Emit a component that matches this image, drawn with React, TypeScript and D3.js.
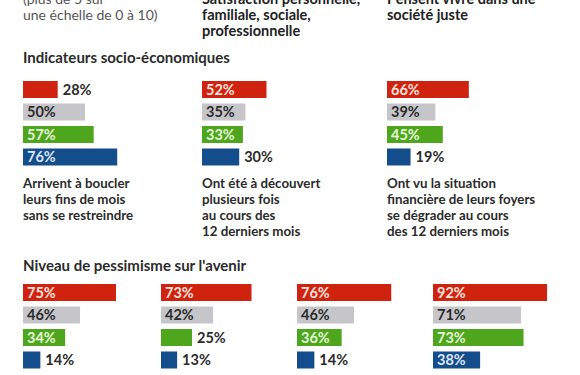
import React from "react";
import * as d3 from "d3";

const series = ["rouge", "gris", "vert", "bleu"];
const seriesColors = ["#cf2310", "#c6c6ca", "#4ea61d", "#144d8c"];
const insideTextColors = ["#fbe3de", "#2b2b2b", "#e6f6da", "#dde6f4"];

const headerTexts = [
  ["(plus de 5 sur", "une échelle de 0 à 10)"],
  ["Satisfaction personnelle,", "familiale, sociale,", "professionnelle"],
  ["Pensent vivre dans une", "société juste"],
];

const section1Title = "Indicateurs socio-économiques";
const section1Labels = [
  ["Arrivent à boucler", "leurs fins de mois", "sans se restreindre"],
  ["Ont été à découvert", "plusieurs fois", "au cours des", "12 derniers mois"],
  ["Ont vu la situation", "financière de leurs foyers", "se dégrader au cours", "des 12 derniers mois"],
];
const section1Red = [28, 52, 66];
const section1Gray = [50, 35, 39];
const section1Green = [57, 33, 45];
const section1Blue = [76, 30, 19];

const section2Title = "Niveau de pessimisme sur l'avenir";
const section2Red = [75, 73, 76, 92];
const section2Gray = [46, 42, 46, 71];
const section2Green = [34, 25, 36, 73];
const section2Blue = [14, 13, 14, 38];

const FONT = "Lato, 'Open Sans', sans-serif";
const x = d3.scaleLinear().domain([0, 100]).range([0, 124]);

function BarGroup({ left, top, values }: { left: number; top: number; values: number[] }) {
  const y = d3.scaleBand<string>().domain(series).range([top, top + 84.5]).paddingInner(0.244);
  return (
    <g>
      {series.map((s, i) => {
        const v = values[i];
        const w = x(v);
        const inside = v >= 32;
        const yy = y(s)!;
        const h = y.bandwidth();
        return (
          <g key={s}>
            <rect x={left} y={yy} width={w} height={h} fill={seriesColors[i]} />
            <text
              x={inside ? left + 4 : left + w + 5}
              y={yy + h / 2}
              dy="0.36em"
              fontFamily={FONT}
              fontWeight={700}
              fontSize={14.5}
              fill={inside ? insideTextColors[i] : "#2b2b2b"}
            >
              {v}%
            </text>
          </g>
        );
      })}
    </g>
  );
}

export default function App() {
  const cols1 = [23, 202, 387];
  const cols2 = [23, 161, 297, 433];
  const groups1 = section1Red.map((_, i) => [section1Red[i], section1Gray[i], section1Green[i], section1Blue[i]]);
  const groups2 = section2Red.map((_, i) => [section2Red[i], section2Gray[i], section2Green[i], section2Blue[i]]);
  return (
    <svg
      width={580}
      height={375}
      style={{ position: "absolute", left: 0, top: 0, background: "#fff" }}
    >
      <rect width={580} height={375} fill="#fff" />
      {headerTexts.map((lines, ci) => (
        <text
          key={ci}
          fontFamily={FONT}
          fontSize={ci === 0 ? 14 : 14.5}
          fill={ci === 0 ? "#555" : "#222"}
          fontWeight={ci === 0 ? 400 : 700}
        >
          {lines.map((l, li) => (
            <tspan key={li} x={cols1[ci]} y={3.5 + li * 16}>
              {l}
            </tspan>
          ))}
        </text>
      ))}
      <text x={23} y={63} fontFamily={FONT} fontSize={15} fontWeight={700} fill="#2b2b2b">
        {section1Title}
      </text>
      {groups1.map((vals, i) => (
        <BarGroup key={i} left={cols1[i]} top={81} values={vals} />
      ))}
      {section1Labels.map((lines, ci) => (
        <text key={ci} fontFamily={FONT} fontSize={13.3} fontWeight={700} fill="#2b2b2b">
          {lines.map((l, li) => (
            <tspan key={li} x={cols1[ci]} y={188 + li * 16}>
              {l}
            </tspan>
          ))}
        </text>
      ))}
      <text x={23} y={271} fontFamily={FONT} fontSize={15} fontWeight={700} fill="#2b2b2b">
        {section2Title}
      </text>
      {groups2.map((vals, i) => (
        <BarGroup key={i} left={cols2[i]} top={284} values={vals} />
      ))}
    </svg>
  );
}
